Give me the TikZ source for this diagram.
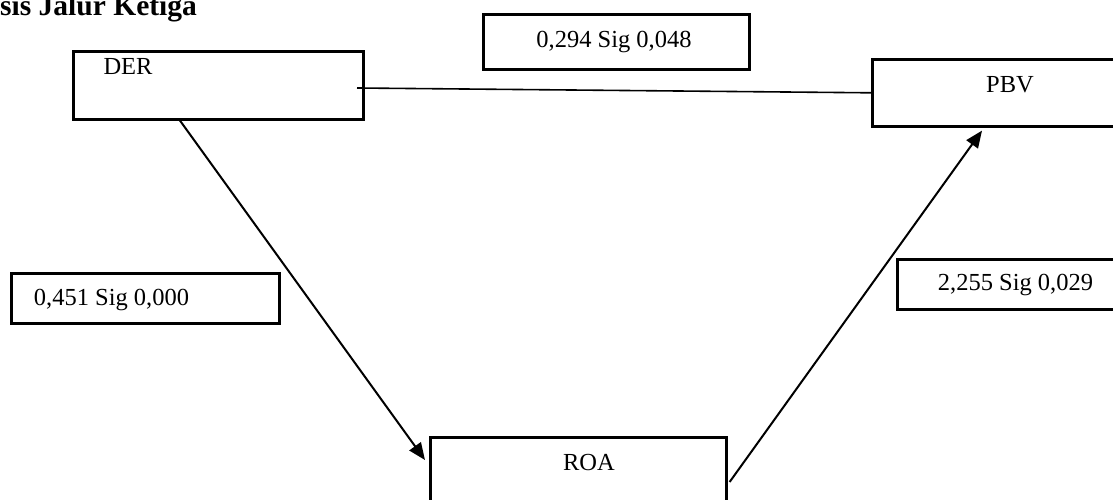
\documentclass[tikz,border=0pt]{standalone}
\usepackage{fontspec}
\setmainfont{Liberation Serif}
\usetikzlibrary{arrows.meta}
\begin{document}
\begin{tikzpicture}[x=1pt,y=-1pt,
  box/.style={draw, line width=2.6pt, rectangle, inner sep=0pt, anchor=north west},
  lbl/.style={font=\fontsize{24.5}{28}\selectfont, inner sep=0pt, anchor=base},
  conn/.style={line width=2pt, -{Triangle[length=17pt,width=14pt]}},
  plain/.style={line width=1.6pt},
]
\useasboundingbox (0,0) rectangle (1113,500);
\clip (0,0) rectangle (1113,500);
\node[font=\bfseries\fontsize{29.5}{34}\selectfont, anchor=base west, inner sep=0pt] (title) at (0,16) {sis Jalur Ketiga};
% boxes
\node[box, minimum width=290pt, minimum height=68pt] (DER) at (72,50) {};
\node[box, minimum width=260pt, minimum height=67pt] (PBV) at (871,58) {};
\node[box, minimum width=296pt, minimum height=90pt] (ROA) at (429,436) {};
\node[box, minimum width=266pt, minimum height=55pt] (b294) at (482,13) {};
\node[box, minimum width=268pt, minimum height=50pt] (b451) at (10,272) {};
\node[box, minimum width=240pt, minimum height=50pt] (b255) at (896,258) {};
% texts
\node[lbl] (DERt) at (128,75) {DER};
\node[lbl] (PBVt) at (1010,93) {PBV};
\node[lbl] (ROAt) at (589,470) {ROA};
\node[lbl] (t294) at (614,48) {0,294 Sig 0,048};
\node[lbl] (t451) at (111.5,305) {0,451 Sig 0,000};
\node[lbl] (t255) at (1015.5,290) {2,255 Sig 0,029};
% connectors
\coordinate (a1) at (357,88);
\draw[plain] (a1) -- (PBV.west);
\draw[conn] ([xshift=108pt]DER.south west) -- ([xshift=-4pt,yshift=-24pt]ROA.north west);
\draw[conn] ([xshift=2pt,yshift=-46pt]ROA.north east) -- ([xshift=111pt,yshift=-3pt]PBV.south west);
\end{tikzpicture}
\end{document}
